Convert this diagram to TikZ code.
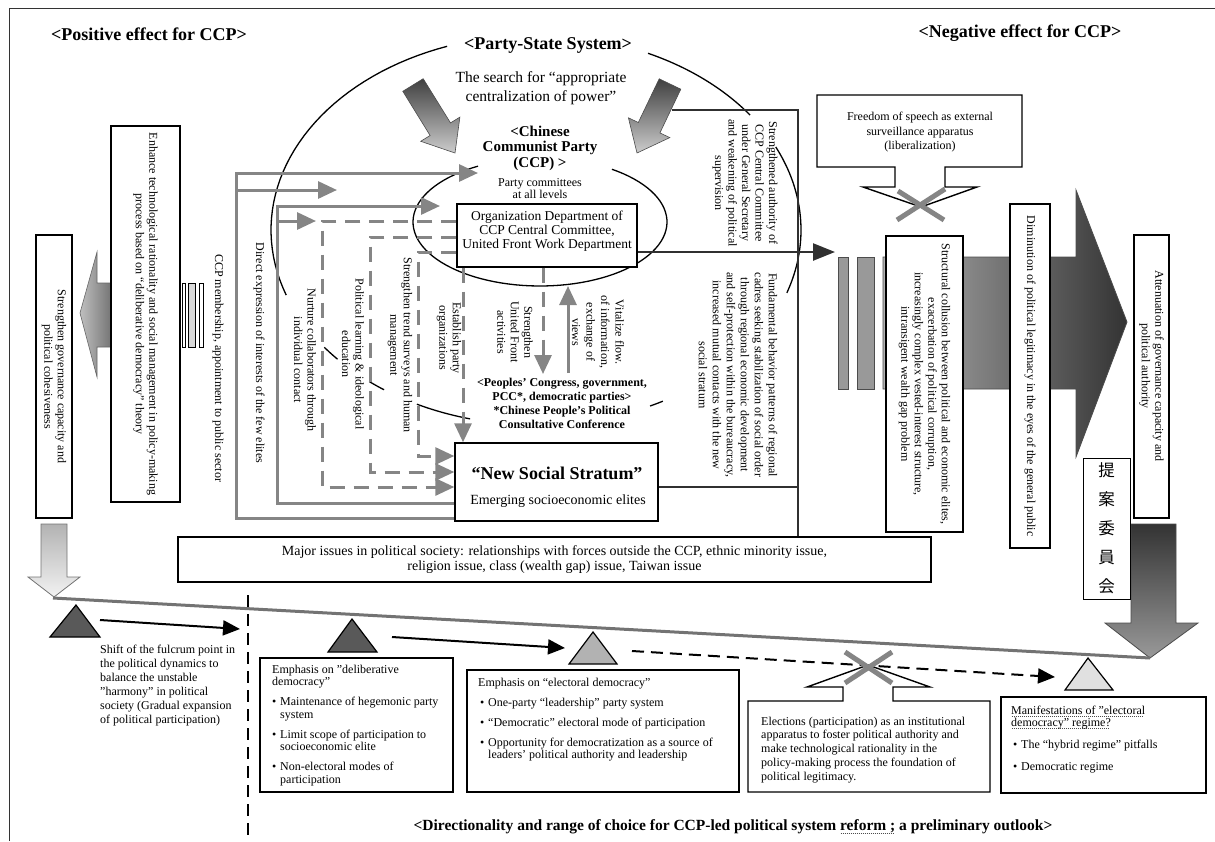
\documentclass[tikz,border=0pt]{standalone}
\usepackage{fontspec}
\setmainfont{Liberation Serif}
\newfontfamily\cjkfont{Noto Sans CJK JP}
\usetikzlibrary{arrows.meta}
\definecolor{lg}{HTML}{858585}
\definecolor{dg}{HTML}{303030}
\newcommand{\mybul}{\makebox[8pt][l]{\textbullet}}
\newcommand{\myind}{\hspace*{8pt}}
\newcommand{\sdq}{\symbol{34}}
\newcommand{\dotu}[1]{\setbox0=\hbox{#1}\leavevmode\rlap{\raisebox{-3pt}{\hbox to \wd0{\color{black!70}\leaders\hbox to 2pt{\hss\rule{0.9pt}{0.8pt}\hss}\hfill}}}\box0\relax}
\begin{document}
\begin{tikzpicture}[x=1pt,y=-1pt,
  tx/.style={font=\fontsize{12}{13.5}\selectfont, align=center, inner sep=1pt},
  vt/.style={tx, rotate=-90},
  lt/.style={align=left, inner sep=0pt, anchor=north west},
  bx/.style={draw=black, line width=1.4pt, fill=white},
  gl/.style={draw=lg, line width=3pt},
  gd/.style={draw=lg, line width=3pt, dash pattern=on 15pt off 9pt},
  gtip/.style={-{Triangle[length=19pt,width=17pt]}},
  ktip/.style={-{Triangle[length=17pt,width=15pt]}},
  title/.style={font=\fontsize{18}{20}\selectfont\bfseries, inner sep=0pt},
  xm/.style={draw=lg, line width=5pt},
  el/.style={line width=1.3pt},
]
\useasboundingbox (0,0) rectangle (1215,841);
% frame
\draw[line width=1pt, black!80] (9,841) -- (9,8) -- (1215,8);

% titles
\node[title] (tpos) at (149,34) {<Positive effect for CCP>};
\node[title] (tneg) at (1020,33) {<Negative effect for CCP>};
\node[title] (tpss) at (548,45) {<Party-State System>};
\node[font=\fontsize{15.5}{17}\selectfont\bfseries, inner sep=0pt] (tbot) at (733,827) {<Directionality and range of choice for CCP-led political system \dotu{reform ;} a preliminary outlook>};

% big party-state ellipse (visible pieces)
\foreach \a/\b in {109.6/199.5, 217/221.5, 231/235, 243.3/255.6, 295.5/298.6, -18.8/25.2, 36.1/65}
  \draw[el] plot[domain=\a:\b, samples=40] ({536+265*cos(\x)},{230-195*sin(\x)});
% CCP ellipse
\draw[el] plot[domain=119.2:415.5, samples=90] ({540+127*cos(\x)},{222-64*sin(\x)});

% search text and centralization arrows
\node[font=\fontsize{15.5}{19}\selectfont, align=center] (search) at (541,88.5) {The search for “appropriate\\centralization of power”};
\path[draw=black!70, line width=0.6pt, top color=black!75, bottom color=black!20] (423.2,78.7) -- (450.5,122.9) -- (459.9,117.1) -- (455,153) -- (420.7,141.3) -- (430.1,135.5) -- (402.8,91.3) -- cycle;
\path[draw=black!70, line width=0.6pt, top color=black!75, bottom color=black!20] (680.8,89.2) -- (659.9,132.9) -- (669.8,137.6) -- (637,153) -- (628.4,117.8) -- (638.3,122.5) -- (659.2,78.8) -- cycle;

% CCP texts
\node[font=\fontsize{15}{15.5}\selectfont\bfseries, align=center] (ccpt) at (540,148) {<Chinese\\Communist Party\\(CCP) >};
\node[font=\fontsize{12}{12}\selectfont, align=center] (pcom) at (540,189) {Party committees\\at all levels};

% Org dept box
\node[bx, minimum width=180pt, minimum height=63pt] (org) at (547,235.5) {};
\node[font=\fontsize{13.5}{14}\selectfont, align=center] (orgt) at (547,231) {Organization Department of\\CCP Central Committee,\\United Front Work Department};

% New social stratum
\node[bx, minimum width=203pt, minimum height=78pt] (nss) at (556.5,482) {};
\node[font=\fontsize{18}{20}\selectfont\bfseries] (nsst) at (557,473) {“New Social Stratum”};
\node[font=\fontsize{14}{16}\selectfont] (nsss) at (558,501) {Emerging socioeconomic elites};

% Peoples' congress
\node[font=\fontsize{12}{14}\selectfont\bfseries, align=center] (pc) at (562,403) {<Peoples’ Congress, government,\\PCC*, democratic parties>\\*Chinese People’s Political\\Consultative Conference};

% major issues box
\node[bx, font=\fontsize{14}{15}\selectfont, align=center, minimum width=753pt, minimum height=45pt] (maj) at (554.5,559.5) {Major issues in political society: relationships with forces outside the CCP, ethnic minority issue,\\religion issue, class (wealth gap) issue, Taiwan issue};

% gray connectors
\draw[gl, gtip] ([yshift=-36pt]nss.west) -| (236,173) -- (478,173);
\draw[gl, gtip] (236,190) -- (337,190);
\draw[gl, gtip] ([yshift=-21pt]nss.west) -| (277,206) -- (440,206);
\draw[gl, gtip] (277,221) -- (316,221);
\draw[gd, gtip] ([yshift=14.5pt]org.west) -| (322,487) -- ([yshift=-5pt]nss.west);
\draw[gd, gtip] ([yshift=-1.5pt]org.west) -| (370,472) -- ([yshift=10pt]nss.west);
\draw[gd, gtip] ([yshift=-16.5pt]org.west) -| (418,456) -- ([yshift=26pt]nss.west);
\draw[gd, gtip] ([xshift=-84pt]org.south) -- ([xshift=-93.5pt]nss.north);
\draw[gd, gtip] ([xshift=-4pt]org.south) -- (543,374);
\draw[gl, gtip] (568,373) -- (568,286);

% dark connectors
\draw[dg, line width=2pt] (672,110) -- (798,110) -- ([xshift=243.5pt]maj.north);
\draw[dg, line width=2pt] ([yshift=-5pt]nss.east) -- (798,487);
\draw[dg, line width=2.5pt, -{Triangle[length=22pt,width=17pt]}] ([yshift=-16.5pt]org.east) -- (835,252);

% vertical texts in the middle
\node[vt] (t1) at (218,368) {CCP membership, appointment to public sector};
\node[vt] (t2) at (259,353) {Direct expression of interests of the few elites};
\node[vt] (t3) at (305,360) {Nurture collaborators through\\individual contact};
\node[vt] (t4) at (353,354) {Political learning \& ideological\\education};
\node[vt] (t5) at (400,345) {Strengthen trend surveys and human\\management};
\node[vt] (t6) at (449,338) {Establish party\\organizations};
\node[vt] (t7) at (515,332) {Strengthen\\United Front\\activities};
\node[vt, font=\fontsize{12}{14.5}\selectfont] (t8) at (598,332) {Vitalize flow.\\of information,\\exchange of\\views};
\node[vt] (t9) at (745,183) {Strengthened authority of\\CCP Central Committee\\under General Secretary\\and weakening of political\\supervision};
\node[vt, font=\fontsize{12}{14}\selectfont] (t10) at (738,375) {Fundamental behavior patterns of regional\\cadres seeking stabilization of social order\\through regional economic development\\and self-protection within the bureaucracy,\\increased mutual contacts with the new\\social stratum};

% left side
\path[draw=black!60, line width=0.6pt, left color=black!25, right color=black!55] (80,313) -- (97,252) -- (97,283) -- (112,283) -- (112,347) -- (97,347) -- (97,377) -- cycle;
\node[bx, vt, minimum width=283pt, minimum height=36pt] (sg) at (54,376.5) {Strengthen governance capacity and\\political cohesiveness};
\node[bx, vt, minimum width=376pt, minimum height=69pt] (enh) at (145.5,314) {Enhance technological rationality and social management in policy-making\\process based on “deliberative democracy” theory};
\draw[line width=0.8pt, fill=white] (182,283) rectangle (185,347);
\draw[line width=0.8pt, fill=black!15] (188,283) rectangle (195,347);
\draw[line width=0.8pt, fill=white] (199,283) rectangle (203,347);
\path[draw=black!55, line width=0.8pt, top color=black!30, bottom color=black!5] (41,524) -- (67,524) -- (67,577) -- (80,577) -- (54,597) -- (28,577) -- (41,577) -- cycle;

% right side
\path[draw=black!70, line width=0.8pt, left color=black!30, right color=black!80] (883,257) -- (1076,257) -- (1076,190) -- (1127,322) -- (1076,457) -- (1076,389) -- (883,389) -- cycle;
\draw[line width=0.8pt, draw=black!70, fill=black!40] (838,257) rectangle (848,389);
\draw[line width=0.8pt, draw=black!70, fill=black!40] (857,257) rectangle (874,389);
\node[bx, vt, minimum width=296pt, minimum height=77pt] (str) at (924.5,384) {Structural collusion between political and economic elites,\\exacerbation of political corruption,\\increasingly complex vested-interest structure,\\intransigent wealth gap problem};
\node[bx, vt, minimum width=344pt, minimum height=40pt] (dim) at (1030,376) {Diminution of political legitimacy in the eyes of the general public};
\node[bx, minimum width=35pt, minimum height=283pt] (att) at (1151.5,376.5) {};
\node[vt] (attt) at (1151.5,366) {Attenuation of governance capacity and\\political authority};
\path[draw=black!70, line width=0.8pt, top color=black!80, bottom color=black!40] (1131,524) -- (1176,524) -- (1176,623) -- (1198,623) -- (1150,658) -- (1105,623) -- (1131,623) -- cycle;
\node[bx, minimum width=47pt, minimum height=141pt, font=\cjkfont\fontsize{16.5}{29}\selectfont, align=center, line width=1pt] (tian) at (1106.5,528.5) {提\\案\\委\\員\\会};

% freedom of speech callout
\draw[line width=1.4pt, fill=white] (817,95) -- (1022,95) -- (1022,167) -- (945,167) -- (945,187) -- (977,187) -- (921,207) -- (863,187) -- (895,187) -- (895,167) -- (817,167) -- cycle;
\node[tx, font=\fontsize{12}{14.5}\selectfont] (free) at (920,132.5) {Freedom of speech as external\\surveillance apparatus\\(liberalization)};
\draw[xm] (897,220) -- (945,189);
\draw[xm] (898,191) -- (944,220);

% balance beam and fulcrums
\draw[draw=black!55, line width=3pt] (53,598) -- (1150,658);
\draw[line width=2.5pt, dash pattern=on 12pt off 7pt] (248,595) -- (248,841);
\draw[line width=1.2pt, fill=black!65] (50,637) -- (100,637) -- (76,605) -- cycle;
\draw[line width=1.2pt, fill=black!65] (328,652) -- (377,652) -- (352,619) -- cycle;
\draw[line width=1.2pt, fill=black!30] (569,664) -- (617,664) -- (593,632) -- cycle;
\draw[line width=1.2pt, fill=black!12] (1065,690) -- (1113,690) -- (1088,658) -- cycle;
\draw[line width=2pt, ktip] (100,620) -- (240,629);
\draw[line width=2pt, ktip] (392,637) -- (565,648);
\draw[line width=2pt, ktip, dash pattern=on 12pt off 7pt] (632,651) -- (1055,677);

% bottom texts and boxes
\node[lt, font=\fontsize{12}{14}\selectfont] (shift) at (100,644.5) {Shift of the fulcrum point in\\the political dynamics to\\balance the unstable\\\sdq harmony\sdq\ in political\\society (Gradual expansion\\of political participation)};
\node[bx, minimum width=193pt, minimum height=134pt] (b1) at (356.5,725) {};
\node[lt, font=\fontsize{12}{12.5}\selectfont] (b1t) at (272,664.5) {Emphasis on \sdq deliberative\\democracy\sdq\\[7.5pt]\mybul Maintenance of hegemonic party\\\myind system\\[7.5pt]\mybul Limit scope of participation to\\\myind socioeconomic elite\\[7.5pt]\mybul Non-electoral modes of\\\myind participation};
\node[bx, minimum width=272pt, minimum height=122pt] (b2) at (603,731) {};
\node[lt, font=\fontsize{12}{12.5}\selectfont] (b2t) at (478,677.5) {Emphasis on “electoral democracy”\\[7.5pt]\hspace*{2pt}\mybul One-party “leadership” party system\\[7.5pt]\hspace*{2pt}\mybul “Democratic” electoral mode of participation\\[7.5pt]\hspace*{2pt}\mybul Opportunity for democratization as a source of\\\hspace*{2pt}\myind leaders’ political authority and leadership};
\draw[line width=1.4pt, fill=white] (748,701) -- (843,701) -- (843,687) -- (807,687) -- (868,665) -- (930,687) -- (893,687) -- (893,701) -- (990,701) -- (990,792) -- (748,792) -- cycle;
\node[lt, font=\fontsize{12}{13.8}\selectfont] (b3t) at (761,716.5) {Elections (participation) as an institutional\\apparatus to foster political authority and\\make technological rationality in the\\policy-making process the foundation of\\political legitimacy.};
\draw[xm] (845,652) -- (892,683);
\draw[xm] (845,683) -- (892,652);
\node[bx, minimum width=205pt, minimum height=96pt] (b4) at (1103.5,745) {};
\node[lt, font=\fontsize{12}{12}\selectfont] (b4t) at (1011,705.5) {\dotu{Manifestations of \sdq electoral}\\\dotu{democracy\sdq\ regime?}\\[10pt]\hspace*{2pt}\mybul The “hybrid regime” pitfalls\\[10pt]\hspace*{2pt}\mybul Democratic regime};
\end{tikzpicture}
\end{document}
